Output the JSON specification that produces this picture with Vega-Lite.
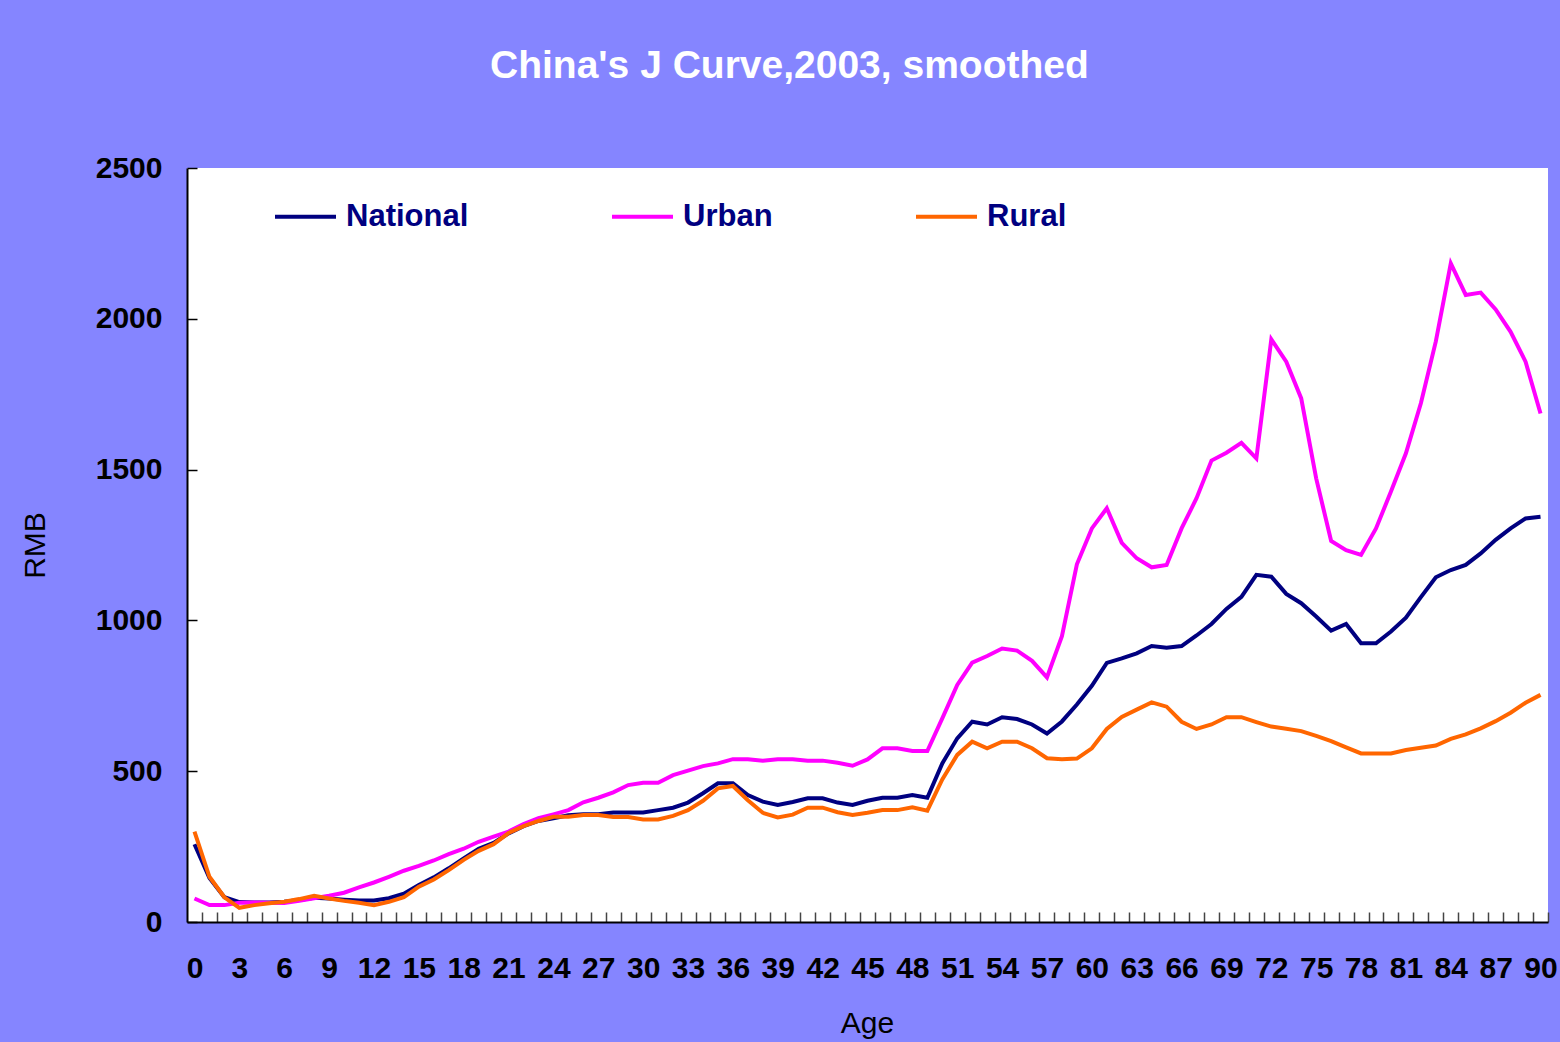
{
  "$schema": "https://vega.github.io/schema/vega-lite/v6.json",
  "width": 1361,
  "height": 754,
  "autosize": {"type": "none"},
  "padding": {"left": 187, "top": 168, "right": 12, "bottom": 120},
  "background": "#8585ff",
  "config": {
    "view": {"fill": "white", "stroke": null},
    "font": "Liberation Sans"
  },
  "title": {
    "text": "China's J Curve,2003, smoothed",
    "color": "white",
    "font": "Liberation Sans",
    "fontSize": 39,
    "fontWeight": "bold",
    "anchor": "start",
    "frame": "group",
    "dx": 303,
    "baseline": "alphabetic",
    "offset": 36
  },
  "data": {
    "values": [
      {"age": 0, "National": 258, "Urban": 78, "Rural": 300},
      {"age": 1, "National": 146, "Urban": 56, "Rural": 150},
      {"age": 2, "National": 82, "Urban": 56, "Rural": 82},
      {"age": 3, "National": 66, "Urban": 64, "Rural": 47},
      {"age": 4, "National": 65, "Urban": 65, "Rural": 56},
      {"age": 5, "National": 65, "Urban": 64, "Rural": 62},
      {"age": 6, "National": 67, "Urban": 63, "Rural": 67},
      {"age": 7, "National": 73, "Urban": 70, "Rural": 76},
      {"age": 8, "National": 80, "Urban": 79, "Rural": 87},
      {"age": 9, "National": 78, "Urban": 87, "Rural": 78},
      {"age": 10, "National": 74, "Urban": 97, "Rural": 70},
      {"age": 11, "National": 71, "Urban": 115, "Rural": 64},
      {"age": 12, "National": 71, "Urban": 131, "Rural": 56},
      {"age": 13, "National": 79, "Urban": 150, "Rural": 67},
      {"age": 14, "National": 94, "Urban": 170, "Rural": 82},
      {"age": 15, "National": 123, "Urban": 186, "Rural": 117},
      {"age": 16, "National": 148, "Urban": 204, "Rural": 141},
      {"age": 17, "National": 178, "Urban": 225, "Rural": 172},
      {"age": 18, "National": 211, "Urban": 243, "Rural": 206},
      {"age": 19, "National": 243, "Urban": 266, "Rural": 236},
      {"age": 20, "National": 262, "Urban": 283, "Rural": 258},
      {"age": 21, "National": 294, "Urban": 300, "Rural": 295},
      {"age": 22, "National": 318, "Urban": 325, "Rural": 318},
      {"age": 23, "National": 335, "Urban": 344, "Rural": 335},
      {"age": 24, "National": 344, "Urban": 357, "Rural": 349},
      {"age": 25, "National": 354, "Urban": 371, "Rural": 349},
      {"age": 26, "National": 357, "Urban": 397, "Rural": 355},
      {"age": 27, "National": 357, "Urban": 412, "Rural": 355},
      {"age": 28, "National": 363, "Urban": 430, "Rural": 348},
      {"age": 29, "National": 363, "Urban": 454, "Rural": 348},
      {"age": 30, "National": 363, "Urban": 462, "Rural": 340},
      {"age": 31, "National": 371, "Urban": 462, "Rural": 340},
      {"age": 32, "National": 379, "Urban": 487, "Rural": 352},
      {"age": 33, "National": 396, "Urban": 502, "Rural": 371},
      {"age": 34, "National": 427, "Urban": 517, "Rural": 402},
      {"age": 35, "National": 460, "Urban": 526, "Rural": 443},
      {"age": 36, "National": 460, "Urban": 540, "Rural": 451},
      {"age": 37, "National": 421, "Urban": 540, "Rural": 404},
      {"age": 38, "National": 399, "Urban": 535, "Rural": 362},
      {"age": 39, "National": 388, "Urban": 540, "Rural": 347},
      {"age": 40, "National": 398, "Urban": 540, "Rural": 356},
      {"age": 41, "National": 410, "Urban": 535, "Rural": 379},
      {"age": 42, "National": 410, "Urban": 535, "Rural": 379},
      {"age": 43, "National": 396, "Urban": 528, "Rural": 364},
      {"age": 44, "National": 388, "Urban": 518, "Rural": 355},
      {"age": 45, "National": 402, "Urban": 539, "Rural": 362},
      {"age": 46, "National": 412, "Urban": 576, "Rural": 371},
      {"age": 47, "National": 412, "Urban": 576, "Rural": 371},
      {"age": 48, "National": 421, "Urban": 567, "Rural": 380},
      {"age": 49, "National": 412, "Urban": 567, "Rural": 369},
      {"age": 50, "National": 526, "Urban": 675, "Rural": 473},
      {"age": 51, "National": 609, "Urban": 786, "Rural": 554},
      {"age": 52, "National": 664, "Urban": 860, "Rural": 598},
      {"age": 53, "National": 655, "Urban": 882, "Rural": 576},
      {"age": 54, "National": 679, "Urban": 907, "Rural": 598},
      {"age": 55, "National": 673, "Urban": 900, "Rural": 598},
      {"age": 56, "National": 655, "Urban": 866, "Rural": 576},
      {"age": 57, "National": 625, "Urban": 811, "Rural": 543},
      {"age": 58, "National": 665, "Urban": 948, "Rural": 540},
      {"age": 59, "National": 721, "Urban": 1186, "Rural": 542},
      {"age": 60, "National": 783, "Urban": 1305, "Rural": 576},
      {"age": 61, "National": 859, "Urban": 1372, "Rural": 640},
      {"age": 62, "National": 874, "Urban": 1257, "Rural": 680},
      {"age": 63, "National": 891, "Urban": 1206, "Rural": 704},
      {"age": 64, "National": 915, "Urban": 1176, "Rural": 728},
      {"age": 65, "National": 909, "Urban": 1184, "Rural": 714},
      {"age": 66, "National": 915, "Urban": 1305, "Rural": 664},
      {"age": 67, "National": 950, "Urban": 1405, "Rural": 640},
      {"age": 68, "National": 988, "Urban": 1530, "Rural": 655},
      {"age": 69, "National": 1038, "Urban": 1556, "Rural": 679},
      {"age": 70, "National": 1078, "Urban": 1589, "Rural": 679},
      {"age": 71, "National": 1151, "Urban": 1537, "Rural": 663},
      {"age": 72, "National": 1145, "Urban": 1932, "Rural": 648},
      {"age": 73, "National": 1088, "Urban": 1858, "Rural": 641},
      {"age": 74, "National": 1057, "Urban": 1736, "Rural": 633},
      {"age": 75, "National": 1013, "Urban": 1471, "Rural": 617},
      {"age": 76, "National": 966, "Urban": 1263, "Rural": 600},
      {"age": 77, "National": 988, "Urban": 1233, "Rural": 579},
      {"age": 78, "National": 924, "Urban": 1217, "Rural": 559},
      {"age": 79, "National": 924, "Urban": 1305, "Rural": 559},
      {"age": 80, "National": 963, "Urban": 1427, "Rural": 559},
      {"age": 81, "National": 1009, "Urban": 1554, "Rural": 570},
      {"age": 82, "National": 1077, "Urban": 1720, "Rural": 578},
      {"age": 83, "National": 1143, "Urban": 1925, "Rural": 585},
      {"age": 84, "National": 1167, "Urban": 2184, "Rural": 607},
      {"age": 85, "National": 1184, "Urban": 2079, "Rural": 622},
      {"age": 86, "National": 1222, "Urban": 2087, "Rural": 642},
      {"age": 87, "National": 1267, "Urban": 2031, "Rural": 666},
      {"age": 88, "National": 1305, "Urban": 1957, "Rural": 694},
      {"age": 89, "National": 1338, "Urban": 1858, "Rural": 727},
      {"age": 90, "National": 1344, "Urban": 1686, "Rural": 753}
    ]
  },
  "transform": [{"fold": ["National", "Urban", "Rural"], "as": ["series", "value"]}],
  "mark": {"type": "line", "strokeWidth": 4, "strokeJoin": "miter"},
  "encoding": {
    "x": {
      "field": "age",
      "type": "quantitative",
      "scale": {"domain": [-0.5, 90.5], "nice": false, "zero": false},
      "axis": {
        "title": "Age",
        "titleFont": "Liberation Sans",
        "titleFontSize": 30,
        "titleFontWeight": "normal",
        "titleColor": "black",
        "titleX": 680,
        "titleY": 101,
        "titleAlign": "center",
        "titleBaseline": "middle",
        "values": [0,0.5,1,1.5,2,2.5,3,3.5,4,4.5,5,5.5,6,6.5,7,7.5,8,8.5,9,9.5,10,10.5,11,11.5,12,12.5,13,13.5,14,14.5,15,15.5,16,16.5,17,17.5,18,18.5,19,19.5,20,20.5,21,21.5,22,22.5,23,23.5,24,24.5,25,25.5,26,26.5,27,27.5,28,28.5,29,29.5,30,30.5,31,31.5,32,32.5,33,33.5,34,34.5,35,35.5,36,36.5,37,37.5,38,38.5,39,39.5,40,40.5,41,41.5,42,42.5,43,43.5,44,44.5,45,45.5,46,46.5,47,47.5,48,48.5,49,49.5,50,50.5,51,51.5,52,52.5,53,53.5,54,54.5,55,55.5,56,56.5,57,57.5,58,58.5,59,59.5,60,60.5,61,61.5,62,62.5,63,63.5,64,64.5,65,65.5,66,66.5,67,67.5,68,68.5,69,69.5,70,70.5,71,71.5,72,72.5,73,73.5,74,74.5,75,75.5,76,76.5,77,77.5,78,78.5,79,79.5,80,80.5,81,81.5,82,82.5,83,83.5,84,84.5,85,85.5,86,86.5,87,87.5,88,88.5,89,89.5,90,90.5],
        "labelExpr": "datum.value % 3 == 0 ? format(datum.value, 'd') : ''",
        "labelOverlap": false,
        "labelFlush": false,
        "labelFont": "Liberation Sans",
        "labelFontSize": 30,
        "labelFontWeight": "bold",
        "labelColor": "black",
        "labelBaseline": "middle",
        "labelPadding": 56,
        "tickSize": -10,
        "tickColor": "#444444",
        "tickWidth": 1.5,
        "tickOpacity": {"condition": {"test": "datum.value % 1 != 0", "value": 1}, "value": 0},
        "domainColor": "black",
        "domainWidth": 2,
        "grid": false
      }
    },
    "y": {
      "field": "value",
      "type": "quantitative",
      "scale": {"domain": [0, 2500], "nice": false},
      "axis": {
        "title": "RMB",
        "titleFont": "Liberation Sans",
        "titleFontSize": 30,
        "titleFontWeight": "normal",
        "titleColor": "black",
        "titleAngle": 270,
        "titleX": -152,
        "titleY": 377,
        "titleAlign": "center",
        "titleBaseline": "middle",
        "values": [0, 500, 1000, 1500, 2000, 2500],
        "format": "d",
        "labelFont": "Liberation Sans",
        "labelFontSize": 30,
        "labelFontWeight": "bold",
        "labelColor": "black",
        "labelPadding": 35,
        "tickSize": -10,
        "tickColor": "black",
        "tickWidth": 1.5,
        "domainColor": "black",
        "domainWidth": 2,
        "grid": false
      }
    },
    "color": {
      "field": "series",
      "type": "nominal",
      "sort": ["National", "Urban", "Rural"],
      "scale": {"domain": ["National", "Urban", "Rural"], "range": ["#000080", "#ff00ff", "#ff6600"]},
      "legend": {
        "title": null,
        "orient": "none",
        "legendX": 86,
        "legendY": 16,
        "direction": "horizontal",
        "symbolType": "stroke",
        "symbolSize": 3721,
        "symbolStrokeWidth": 4,
        "labelFont": "Liberation Sans",
        "labelFontSize": 31,
        "labelFontWeight": "bold",
        "labelColor": "#000080",
        "labelOffset": 8,
        "columnPadding": 135,
        "padding": 0,
        "labelLimit": 400
      }
    }
  }
}
